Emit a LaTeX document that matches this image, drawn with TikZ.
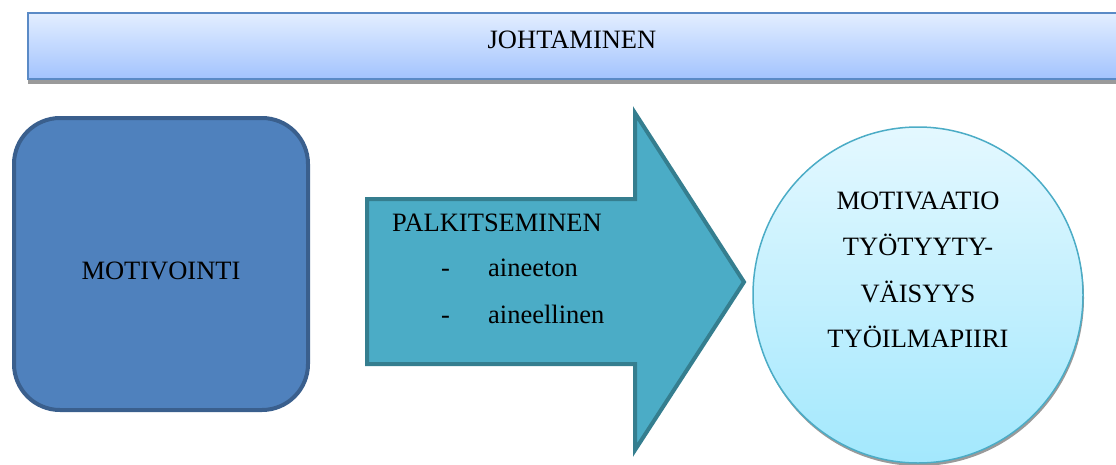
\documentclass[tikz,border=0pt]{standalone}
\usepackage{fontspec}
\setmainfont{Liberation Serif}
\newfontfamily\tnr{Liberation Serif}
\definecolor{bannerTop}{HTML}{E3EEFF}
\definecolor{bannerBot}{HTML}{A2C3FE}
\definecolor{bannerLine}{HTML}{5A8AC6}
\definecolor{boxFill}{HTML}{4F81BD}
\definecolor{boxLine}{HTML}{3A5F8D}
\definecolor{arrFill}{HTML}{4BACC6}
\definecolor{arrLine}{HTML}{357E8F}
\definecolor{circTop}{HTML}{E4F8FF}
\definecolor{circBot}{HTML}{A3E8FD}
\definecolor{circLine}{HTML}{4BACC6}
\definecolor{shadowGrey}{HTML}{9A9A9A}
\tikzset{
  lbl/.style={font=\tnr\fontsize{26.5}{30}\selectfont, text=black, inner sep=0pt, anchor=base},
}
\begin{document}
\begin{tikzpicture}[x=1pt,y=-1pt]
\useasboundingbox (0,0) rectangle (1116,464);
% banner
\fill[shadowGrey] (28,74) rectangle (1125,84);
\shade[top color=bannerTop, bottom color=bannerBot] (28,13) rectangle (1125,79);
\draw[bannerLine, line width=2.5] (28,13) rectangle (1125,79);
\node[lbl] (banner) at (572,48) {JOHTAMINEN};
% rounded box
\draw[boxLine, fill=boxFill, line width=4, rounded corners=46] (14,118) rectangle (308,410);
\node[lbl] (motivointi) at (161,279) {MOTIVOINTI};
% arrow
\draw[arrLine, fill=arrFill, line width=4, line join=miter]
  (367,199) -- (635,199) -- (635,113) -- (744,282) -- (635,450) -- (635,364) -- (367,364) -- cycle;
\node[lbl, anchor=base west] (palk) at (392,231) {PALKITSEMINEN};
\node[lbl, anchor=base west] (d1) at (441,276) {-};
\node[lbl, anchor=base west] (a1) at (488,276) {aineeton};
\node[lbl, anchor=base west] (d2) at (441,323) {-};
\node[lbl, anchor=base west] (a2) at (488,323) {aineellinen};
% circle
\fill[shadowGrey] (919,298) ellipse [x radius=165, y radius=168];
\shade[top color=circTop, bottom color=circBot] (918,295) ellipse [x radius=165, y radius=168];
\draw[circLine, line width=1.5] (918,295) ellipse [x radius=165, y radius=168];
\node[lbl] (c1) at (918,209) {MOTIVAATIO};
\node[lbl] (c2) at (918,255) {TYÖTYYTY-};
\node[lbl] (c3) at (918,302) {VÄISYYS};
\node[lbl] (c4) at (918,347) {TYÖILMAPIIRI};
\end{tikzpicture}
\end{document}
